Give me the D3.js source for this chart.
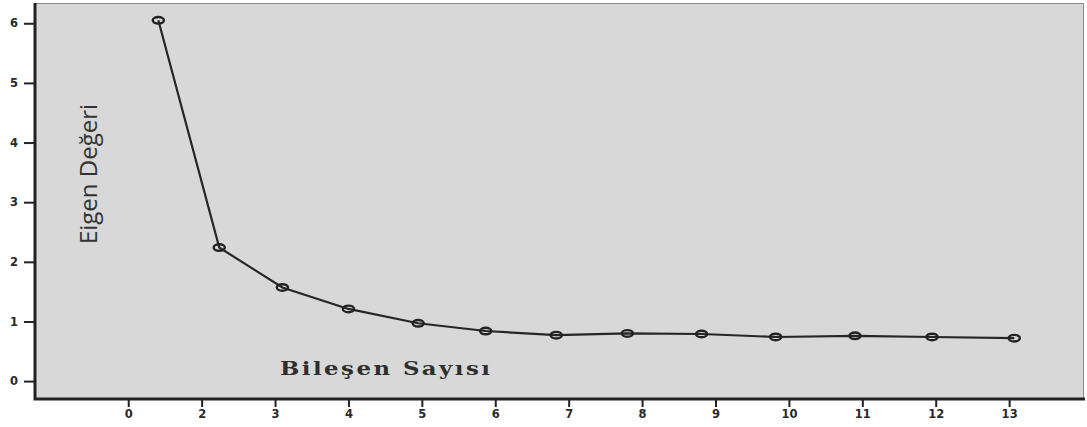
<!DOCTYPE html>
<html>
<head>
  <script src="https://d3js.org/d3.v7.min.js"></script>
  <style>
    body { margin: 0; background: #ffffff; }
  </style>
</head>
<body>
<div id="chart"></div>
<script>
  // tick labels on the x axis (the picture skips 1)
  var tickLabels = ["0", "2", "3", "4", "5", "6", "7", "8", "9", "10", "11", "12", "13"];
  // where each point sits, measured in tick steps from the "0" tick
  var pointPos = [0.41, 1.24, 2.10, 3.00, 3.95, 4.87, 5.83, 6.80, 7.81, 8.82, 9.90, 10.95, 12.07];
  var eigenValues = [6.05, 2.24, 1.57, 1.21, 0.97, 0.84, 0.77, 0.80, 0.79, 0.74, 0.76, 0.74, 0.72];
  var yTicks = [0, 1, 2, 3, 4, 5, 6];

  var W = 1087, H = 427;
  var margin = { top: 3, right: 3, bottom: 28, left: 35 },
      width = W - margin.left - margin.right,
      height = H - margin.top - margin.bottom;

  var svg = d3.select("#chart")
    .append("svg")
    .attr("width", W)
    .attr("height", H)
    .append("g")
    .attr("transform", "translate(" + margin.left + "," + margin.top + ")");

  var x = d3.scaleLinear().domain([-1.27, 13.02]).range([0, width]);
  var y = d3.scaleLinear().domain([-0.30, 6.34]).range([height, 0]);

  // grey panel
  svg.append("rect")
    .attr("width", width)
    .attr("height", height)
    .attr("fill", "#d8d8d8");
  // thin border top and right
  svg.append("path")
    .attr("d", "M0,0.5H" + (width - 0.5) + "V" + height)
    .attr("fill", "none")
    .attr("stroke", "#8a8a8a")
    .attr("stroke-width", 1);

  var yAxis = svg.append("g")
    .call(d3.axisLeft(y).tickValues(yTicks).tickSize(11).tickPadding(6).tickFormat(d3.format("d")));
  yAxis.select(".domain").remove();

  var xAxis = svg.append("g")
    .attr("transform", "translate(0," + height + ")")
    .call(d3.axisBottom(x).tickValues(d3.range(tickLabels.length)).tickSize(8).tickPadding(3)
      .tickFormat(function(i) { return tickLabels[i]; }));
  xAxis.select(".domain").remove();

  svg.selectAll(".tick line").attr("stroke", "#222").attr("stroke-width", 2);
  svg.selectAll(".tick text")
    .style("font-family", "'DejaVu Sans', sans-serif")
    .style("font-size", "11.5px")
    .style("font-weight", "bold")
    .style("fill", "#2a2a2a");

  // thick axis lines
  svg.append("path")
    .attr("d", "M0,0V" + height + "H" + (width + 1))
    .attr("fill", "none")
    .attr("stroke", "#222")
    .attr("stroke-width", 3);

  var pts = pointPos.map(function(p, i) { return { px: p, v: eigenValues[i] }; });

  var line = d3.line()
    .x(function(d) { return x(d.px); })
    .y(function(d) { return y(d.v); });

  svg.append("path")
    .datum(pts)
    .attr("d", line)
    .attr("fill", "none")
    .attr("stroke", "#262626")
    .attr("stroke-width", 2.2);

  svg.append("g")
    .selectAll("ellipse")
    .data(pts)
    .join("ellipse")
    .attr("cx", function(d) { return x(d.px); })
    .attr("cy", function(d) { return y(d.v); })
    .attr("rx", 5.6)
    .attr("ry", 3.3)
    .attr("fill", "none")
    .attr("stroke", "#222")
    .attr("stroke-width", 2.4);

  // axis titles
  svg.append("text")
    .attr("transform", "translate(" + (97 - margin.left) + "," + (174 - margin.top) + ") rotate(-90)")
    .attr("text-anchor", "middle")
    .style("font-family", "'Open Sans', sans-serif")
    .style("font-size", "24px")
    .style("fill", "#333")
    .text("Eigen Değeri");

  // the title in the picture is a wide serif, so stretch it a little
  svg.append("text")
    .attr("transform", "translate(" + (280 - margin.left) + "," + (375 - margin.top) + ") scale(1.2,1)")
    .attr("textLength", 175)
    .attr("lengthAdjust", "spacing")
    .style("font-family", "'DejaVu Serif', serif")
    .style("font-weight", "bold")
    .style("font-size", "19px")
    .style("fill", "#2e2e2e")
    .text("Bileşen Sayısı");
</script>
</body>
</html>
